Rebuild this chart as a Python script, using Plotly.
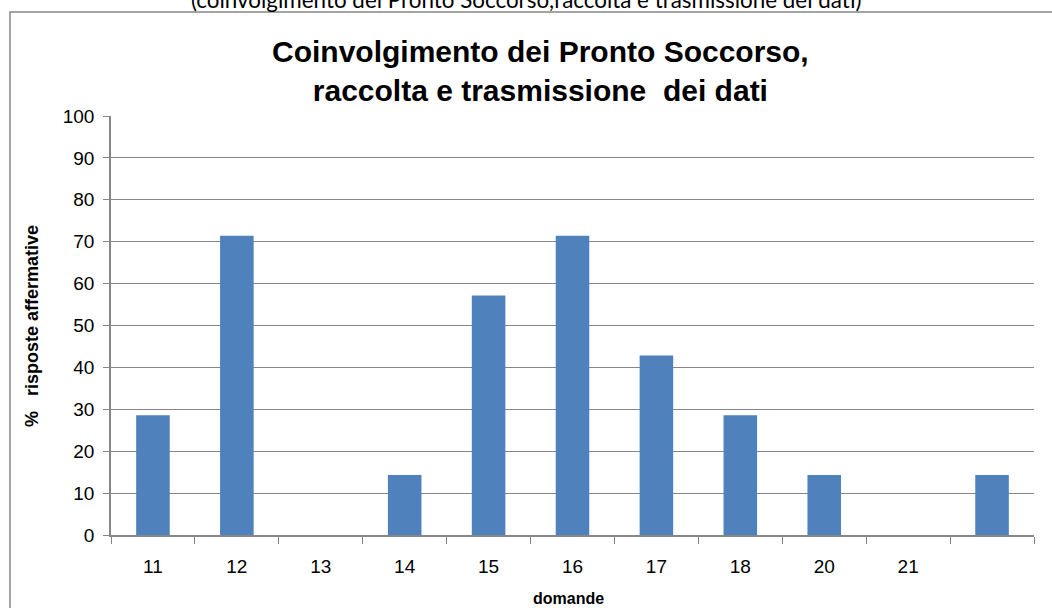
import plotly.graph_objects as go

# Question numbers and share of affirmative answers (%)
domande = ["11", "12", "13", "14", "15", "16", "17", "18", "20", "21", " "]
risposte_affermative = [28.57, 71.43, 0, 14.29, 57.14, 71.43, 42.86, 28.57, 14.29, 0, 14.29]

titolo = "Coinvolgimento dei Pronto Soccorso,<br>raccolta e trasmissione  dei dati"
sottotitolo = "(coinvolgimento dei Pronto Soccorso,raccolta e trasmissione dei dati)"

fig = go.Figure(
    go.Bar(
        x=domande,
        y=risposte_affermative,
        marker=dict(color="#4F81BD", line=dict(width=0)),
    )
)

# Plot area geometry in pixels
L, R, T, B = 111, 18, 116, 73
W, H = 1052 - L - R, 608 - T - B


def px_x(x):
    return (x - L) / W


def px_y(y):
    return (608 - B - y) / H


fig.update_layout(
    width=1052,
    height=608,
    margin=dict(l=L, r=R, t=T, b=B),
    paper_bgcolor="white",
    plot_bgcolor="white",
    bargap=0.6,
    showlegend=False,
    font=dict(family="Liberation Sans, Arial, sans-serif", color="#000000"),
    xaxis=dict(
        type="category",
        categoryorder="array",
        categoryarray=domande,
        tickson="boundaries",
        ticks="outside",
        ticklen=7,
        tickcolor="#868686",
        tickfont=dict(size=19),
        ticklabelstandoff=13,
        showline=True,
        linecolor="#868686",
        linewidth=1.5,
        showgrid=False,
        automargin=False,
        title=dict(text=""),
    ),
    yaxis=dict(
        range=[0, 100],
        dtick=10,
        ticks="outside",
        ticklen=6,
        tickcolor="#868686",
        tickfont=dict(size=19),
        ticklabelstandoff=5,
        showline=True,
        linecolor="#868686",
        linewidth=1.5,
        showgrid=True,
        gridcolor="#868686",
        gridwidth=1,
        zeroline=False,
        automargin=False,
        title=dict(text=""),
    ),
)

# Chart frame
fig.add_shape(
    type="rect",
    xref="paper", yref="paper",
    x0=px_x(10), x1=px_x(1080),
    y0=px_y(640), y1=px_y(12),
    line=dict(color="#868686", width=1.5),
    fillcolor="rgba(0,0,0,0)",
    layer="below",
)

# Chart title
fig.add_annotation(
    text="<b>" + titolo + "</b>",
    xref="paper", yref="paper",
    x=px_x(540), y=px_y(71),
    xanchor="center", yanchor="middle",
    showarrow=False,
    font=dict(size=30),
    align="center",
)

# Axis titles
fig.add_annotation(
    text="<b>domande</b>",
    xref="paper", yref="paper",
    x=px_x(568), y=px_y(598),
    xanchor="center", yanchor="middle",
    showarrow=False,
    font=dict(size=16),
)
fig.add_annotation(
    text="<b>%   risposte affermative</b>",
    xref="paper", yref="paper",
    x=px_x(32), y=px_y(326),
    xanchor="center", yanchor="middle",
    textangle=-90,
    showarrow=False,
    font=dict(size=18),
)

# Subtitle partly above the page edge
fig.add_annotation(
    text=sottotitolo,
    xref="paper", yref="paper",
    x=px_x(526), y=px_y(15),
    xanchor="center", yanchor="bottom",
    showarrow=False,
    font=dict(size=22.4, family="Lato, DejaVu Sans, sans-serif"),
)

fig.write_html("out.html")
